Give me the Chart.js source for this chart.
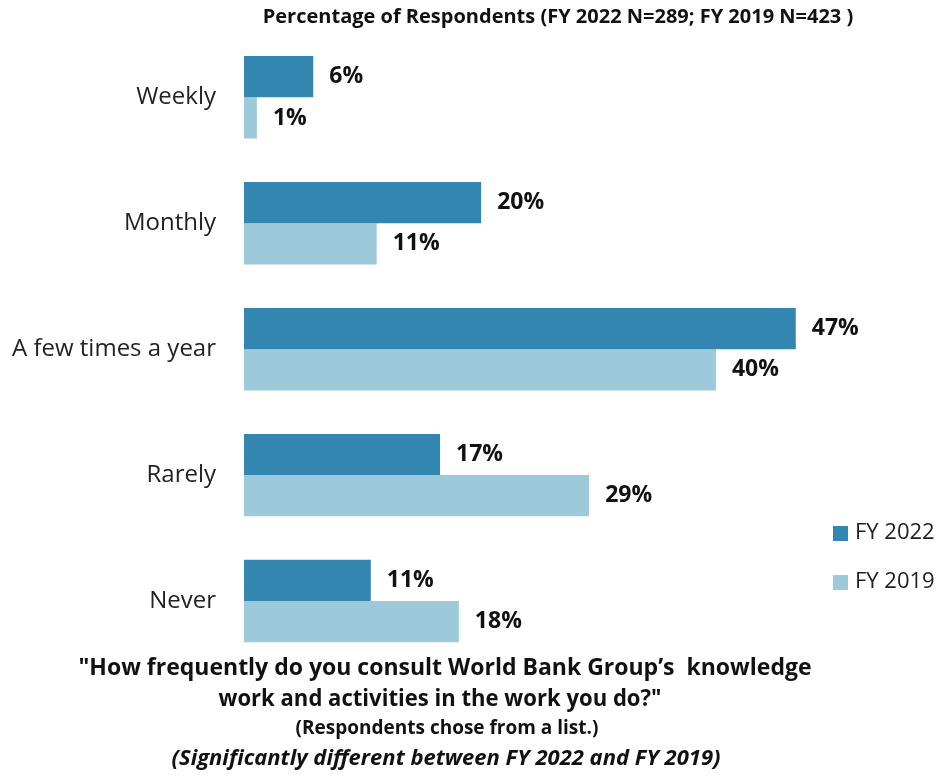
<!DOCTYPE html>
<html>
<head>
<meta charset="utf-8">
<script src="https://cdn.jsdelivr.net/npm/chart.js@4.4.1/dist/chart.umd.min.js"></script>
<style>
  html, body { margin: 0; padding: 0; background: #fff; }
  #wrap { width: 946px; height: 777px; position: relative; }
</style>
</head>
<body>
<div id="wrap"><canvas id="chart"></canvas></div>
<script>
const categories = ['Weekly', 'Monthly', 'A few times a year', 'Rarely', 'Never'];
// bar lengths; the labels show them rounded
const fy2022 = [5.9, 20.2, 47.0, 16.7, 10.8];
const fy2019 = [1.1, 11.3, 40.2, 29.4, 18.3];
const seriesNames = ['FY 2022', 'FY 2019'];

const titleText = 'Percentage of Respondents (FY 2022 N=289; FY 2019 N=423 )';
const footLines = [
    '"How frequently do you consult World Bank Group\u2019s  knowledge',
    'work and activities in the work you do?"',
    '(Respondents chose from a list.)',
    '(Significantly different between FY 2022 and FY 2019)'
];

const FONT = "'Open Sans', sans-serif";
const DARK = '#3386b0';
const LIGHT = '#9ccada';

// squeeze a line of text to a given width (the source font is a narrow one)
function fitText(ctx, text, cx, y, width) {
    const w = ctx.measureText(text).width;
    const k = Math.min(1, width / w);
    ctx.save();
    ctx.translate(cx, y);
    ctx.scale(k, 1);
    ctx.fillText(text, 0, 0);
    ctx.restore();
}

const decorations = {
    id: 'decorations',
    afterDatasetsDraw(chart) {
        const ctx = chart.ctx;
        ctx.save();
        ctx.fillStyle = '#111';
        ctx.textBaseline = 'middle';
        ctx.textAlign = 'left';
        ctx.font = `bold 23px ${FONT}`;
        chart.data.datasets.forEach((ds, i) => {
            chart.getDatasetMeta(i).data.forEach((bar, j) => {
                ctx.fillText(Math.round(ds.data[j]) + '%', bar.x + 16, bar.y);
            });
        });

        ctx.textAlign = 'center';
        ctx.font = `bold 20px ${FONT}`;
        fitText(ctx, titleText, 558, 17, 629);

        ctx.font = `bold 23px ${FONT}`;
        fitText(ctx, footLines[0], 445, 668, 733);
        fitText(ctx, footLines[1], 440, 699, 443);
        ctx.font = `bold 19px ${FONT}`;
        fitText(ctx, footLines[2], 447, 729, 336);
        ctx.font = `italic bold 22px ${FONT}`;
        fitText(ctx, footLines[3], 446, 759, 556);

        // legend
        ctx.textAlign = 'left';
        ctx.font = `22px ${FONT}`;
        [DARK, LIGHT].forEach((c, i) => {
            const y = 533 + i * 49;
            ctx.fillStyle = c;
            ctx.fillRect(833, y - 7, 15, 15);
            ctx.fillStyle = '#222';
            ctx.fillText(seriesNames[i], 855, y);
        });
        ctx.restore();
    }
};

new Chart(document.getElementById('chart'), {
    type: 'bar',
    data: {
        labels: categories,
        datasets: [
            { label: seriesNames[0], data: fy2022, backgroundColor: DARK },
            { label: seriesNames[1], data: fy2019, backgroundColor: LIGHT }
        ]
    },
    options: {
        indexAxis: 'y',
        responsive: true,
        maintainAspectRatio: false,
        animation: false,
        categoryPercentage: 0.655,
        barPercentage: 1.0,
        layout: { padding: { top: 26, bottom: 113, right: 115, left: 0 } },
        plugins: {
            legend: { display: false },
            tooltip: { enabled: false }
        },
        scales: {
            x: {
                display: false,
                min: 0,
                max: 50
            },
            y: {
                grid: { display: false },
                border: { display: false },
                ticks: {
                    color: '#222',
                    padding: 20,
                    font: { family: FONT, size: 24 }
                },
                afterFit(scale) { scale.width = 244; }
            }
        }
    },
    plugins: [decorations]
});
</script>
</body>
</html>
